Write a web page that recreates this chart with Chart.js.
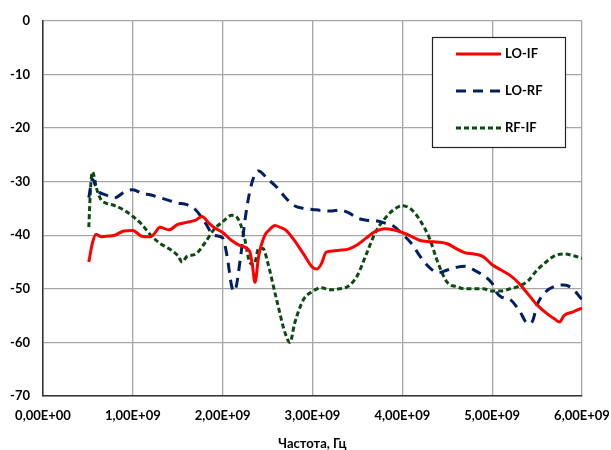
<!DOCTYPE html>
<html>
<head>
<meta charset="utf-8">
<script src="https://cdn.jsdelivr.net/npm/chart.js@4/dist/chart.umd.min.js"></script>
<style>
  html, body { margin: 0; padding: 0; background: #fff; }
  #wrap { width: 611px; height: 450px; }
</style>
</head>
<body>
<div id="wrap"><canvas id="myChart"></canvas></div>
<script>
// frequency in GHz, levels in dB
var loIfFreq = [0.51,0.55,0.59,0.65,0.7,0.8,0.9,1.0,1.1,1.2,1.25,1.3,1.4,1.5,1.6,1.7,1.77,1.85,1.9,2.0,2.1,2.2,2.3,2.33,2.36,2.4,2.47,2.52,2.58,2.65,2.7,2.8,2.9,3.0,3.05,3.1,3.15,3.2,3.3,3.4,3.5,3.6,3.7,3.8,3.9,4.0,4.1,4.2,4.3,4.4,4.5,4.6,4.7,4.8,4.9,5.0,5.1,5.2,5.3,5.4,5.5,5.6,5.7,5.75,5.8,5.9,6.0];
var loIfDb = [-45,-41.5,-39.8,-40.3,-40.2,-40,-39.2,-39.1,-40.2,-40.3,-39.5,-38.5,-39,-38,-37.6,-37.2,-36.5,-37.8,-38.5,-39.5,-41,-42,-43,-45.5,-48.8,-44,-40,-39,-38.2,-38.6,-39,-41,-43.5,-46,-46.3,-45.3,-43.2,-43,-42.8,-42.6,-41.8,-40.5,-39.3,-38.8,-39,-39.5,-40.2,-41,-41.2,-41.3,-41.6,-42.5,-43.3,-43.5,-44,-45.5,-46.5,-47.5,-49,-51,-53,-54.5,-55.7,-56.2,-55,-54.3,-53.6];

var loRfFreq = [0.51,0.55,0.6,0.7,0.8,0.9,1.0,1.1,1.2,1.3,1.4,1.5,1.6,1.7,1.8,1.9,2.0,2.05,2.1,2.13,2.2,2.25,2.3,2.35,2.4,2.5,2.6,2.7,2.8,2.9,3.0,3.1,3.2,3.3,3.4,3.5,3.6,3.7,3.8,3.9,4.0,4.1,4.2,4.3,4.4,4.5,4.6,4.7,4.8,4.9,5.0,5.05,5.1,5.2,5.3,5.4,5.45,5.5,5.6,5.7,5.8,5.9,5.95,6.0];
var loRfDb = [-33,-29.5,-31.5,-32.5,-33,-32,-31.5,-32.2,-32.5,-33,-33.5,-34,-34.3,-35.3,-37.5,-40,-40.5,-44,-49.5,-50.5,-44,-37,-32,-29,-28,-29.5,-31,-33,-34.5,-35,-35.2,-35.4,-35.5,-35.3,-35.8,-36.8,-37.2,-37.3,-37.7,-38.3,-39.8,-41.5,-44,-46,-47,-46.5,-46,-45.8,-46.5,-47.5,-49,-50.7,-51.5,-52,-54,-56.5,-56,-53,-50.5,-49.5,-49.3,-50,-51,-52];

var rfIfFreq = [0.51,0.53,0.55,0.6,0.65,0.7,0.8,0.9,1.0,1.1,1.2,1.3,1.4,1.5,1.55,1.6,1.7,1.8,1.9,2.0,2.1,2.15,2.2,2.25,2.3,2.35,2.4,2.45,2.5,2.6,2.7,2.75,2.8,2.9,3.0,3.1,3.2,3.3,3.4,3.5,3.6,3.7,3.8,3.9,4.0,4.1,4.2,4.3,4.4,4.5,4.6,4.7,4.8,4.9,5.0,5.1,5.2,5.3,5.4,5.5,5.6,5.7,5.8,5.9,6.0];
var rfIfDb = [-38.5,-31,-28.2,-31.5,-33.5,-34,-34.5,-35.3,-36.5,-38,-40,-41.5,-42.5,-43.8,-45,-44,-43.5,-41.5,-39,-37.5,-36.3,-36.5,-38,-41,-45,-45.5,-42.5,-42.5,-45,-52,-58.5,-60,-56.5,-52,-50.5,-49.8,-50.2,-50,-49.5,-47.5,-43.5,-39.5,-37,-35.3,-34.5,-35.2,-37.3,-40.5,-45.3,-48.8,-49.6,-50,-50,-50,-50.4,-50.4,-50,-49.5,-48.5,-46.5,-45,-43.8,-43.5,-43.8,-44.3];

var xTickLabels = ['0,00E+00','1,00E+09','2,00E+09','3,00E+09','4,00E+09','5,00E+09','6,00E+09'];
var seriesNames = ['LO-IF', 'LO-RF', 'RF-IF'];

function toPoints(freq, db) {
  return freq.map(function (f, i) { return { x: f * 1e9, y: db[i] }; });
}

var fontFam = 'Lato, "Open Sans", sans-serif';

// legend box inside the plot, drawn like the Excel one
var boxLegend = {
  id: 'boxLegend',
  afterDraw: function (chart) {
    var c = chart.ctx;
    c.save();
    c.fillStyle = '#fff';
    c.fillRect(432, 37, 133, 110);
    c.strokeStyle = '#222';
    c.lineWidth = 1.2;
    c.strokeRect(432.5, 37.5, 133, 110);
    chart.data.datasets.forEach(function (ds, i) {
      var y = 54 + i * 37;
      c.beginPath();
      c.setLineDash(ds.borderDash || []);
      c.strokeStyle = ds.borderColor;
      c.lineWidth = 3;
      c.moveTo(456, y);
      c.lineTo(501, y);
      c.stroke();
      c.setLineDash([]);
      c.fillStyle = '#000';
      c.font = 'bold 13px ' + fontFam;
      c.textBaseline = 'middle';
      c.fillText(ds.label, 505, y);
    });
    c.restore();
  }
};

var ctx = document.getElementById('myChart');
var myChart = new Chart(ctx, {
  type: 'line',
  data: {
    datasets: [{
      label: seriesNames[0],
      data: toPoints(loIfFreq, loIfDb),
      borderColor: '#ff0000',
      borderWidth: 3
    }, {
      label: seriesNames[1],
      data: toPoints(loRfFreq, loRfDb),
      borderColor: '#002060',
      borderWidth: 3,
      borderDash: [10, 7]
    }, {
      label: seriesNames[2],
      data: toPoints(rfIfFreq, rfIfDb),
      borderColor: '#0b4a12',
      borderWidth: 3,
      borderDash: [5, 3]
    }]
  },
  options: {
    responsive: true,
    maintainAspectRatio: false,
    animation: false,
    layout: { padding: { top: 20, right: 29, left: 0, bottom: 0 } },
    elements: { point: { radius: 0 }, line: { cubicInterpolationMode: 'monotone' } },
    plugins: { legend: { display: false }, tooltip: { enabled: false } },
    scales: {
      x: {
        type: 'linear',
        min: 0,
        max: 6e9,
        afterFit: function (s) { s.paddingLeft = 0; s.paddingRight = 0; s.height = 54; },
        ticks: {
          stepSize: 1e9,
          padding: 12,
          maxRotation: 0,
          autoSkip: false,
          color: '#000',
          font: { family: fontFam, size: 13, weight: 'bold' },
          callback: function (v) { return xTickLabels[Math.round(v / 1e9)]; }
        },
        grid: { color: '#a6a6a6', lineWidth: 1.3, drawTicks: false },
        border: { color: '#333', width: 1.5 },
        title: {
          display: true,
          text: 'Частота, Гц',
          color: '#000',
          padding: { top: 0, bottom: -2 },
          font: { family: fontFam, size: 13, weight: 'bold' }
        }
      },
      y: {
        min: -70,
        max: 0,
        afterFit: function (s) { s.width = 43; },
        ticks: {
          stepSize: 10,
          padding: 13,
          color: '#000',
          font: { family: fontFam, size: 13, weight: 'bold' }
        },
        grid: { color: '#a6a6a6', lineWidth: 1.3, drawTicks: false },
        border: { color: '#333', width: 1.5 }
      }
    }
  },
  plugins: [boxLegend]
});
</script>
</body>
</html>
